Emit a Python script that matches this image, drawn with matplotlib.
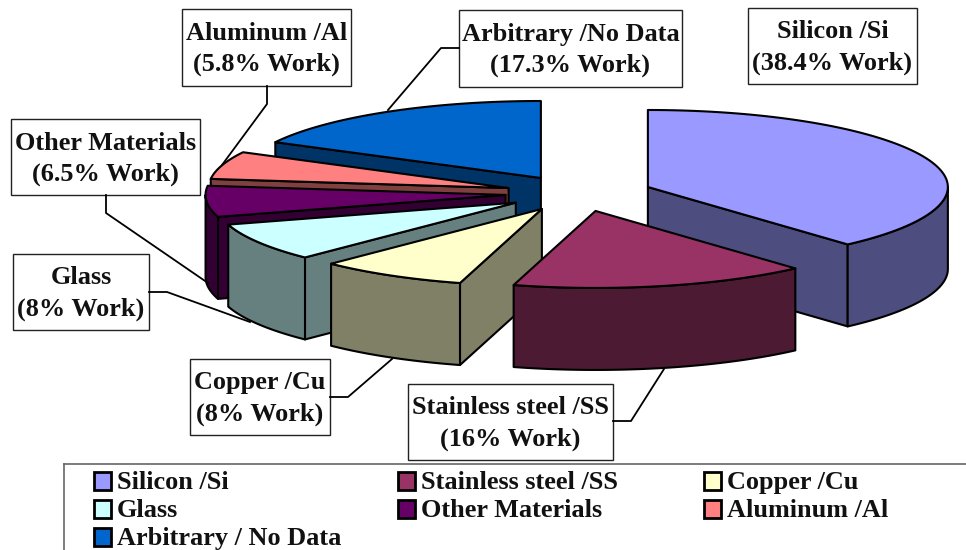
import numpy as np
import matplotlib
matplotlib.use('Agg')
import matplotlib.pyplot as plt
from matplotlib.patches import Rectangle

materials = ['Silicon /Si', 'Stainless steel /SS', 'Copper /Cu', 'Glass', 'Other Materials', 'Aluminum /Al', 'Arbitrary / No Data']
shares = [38.4, 16, 8, 8, 6.5, 5.8, 17.3]
box_titles = ['Silicon /Si', 'Stainless steel /SS', 'Copper /Cu', 'Glass', 'Other Materials', 'Aluminum /Al', 'Arbitrary /No Data']
top_colors = ['#9999FF', '#993366', '#FFFFCC', '#CCFFFF', '#660066', '#FF8080', '#0066CC']
side_colors = ['#4D4D80', '#4D1A33', '#808066', '#668080', '#330033', '#804040', '#003366']

# pie geometry, in pixels
cx, cy = 579, 193.4
rx, ry = 300, 77
depth = 82
explode = 0.2457

# label boxes (x0, y0, x1, y1) and leader lines
boxes = [(748, 8, 917, 84), (408, 384, 613, 460), (190, 359, 330, 435), (13, 254, 149, 330),
         (11, 119, 200, 195), (182, 9, 351, 86), (459, 10, 682, 87)]
leaders = [None,
           [(613, 421), (631, 421), (664, 369)],
           [(330, 397), (348, 397), (392, 359)],
           [(149, 292), (167, 292), (250, 322)],
           [(106, 195), (106, 213), (208, 283)],
           [(267, 86), (267, 104), (222, 165)],
           [(459, 48), (441, 48), (388, 110)]]

fig = plt.figure(figsize=(9.66, 5.5), dpi=100)
ax = fig.add_axes([0, 0, 1, 1])
ax.set_xlim(0, 966)
ax.set_ylim(550, 0)
ax.axis('off')

font = dict(family=['Liberation Serif', 'DejaVu Serif'], fontweight='bold', color='#111111', fontsize=18.9)


def rim(x0, y0, a, b):
    t = np.radians(np.linspace(a, b, 80))
    return x0 + rx * np.sin(t), y0 - ry * np.cos(t)


edges = np.concatenate([[0], np.cumsum(shares)]) * 3.6

# back slices first, stainless steel sits in front of silicon and copper
for i in [6, 5, 4, 3, 2, 0, 1]:
    a, b = edges[i], edges[i + 1]
    mid = np.radians((a + b) / 2)
    x0 = cx + explode * rx * np.sin(mid)
    y0 = cy - 18 * np.cos(mid)
    xs, ys = rim(x0, y0, a, b)
    kw = dict(facecolor=side_colors[i], edgecolor='black', linewidth=1.5, joinstyle='round')
    # flat cut faces, only those turned to the viewer
    if 180 < a < 360:
        ax.fill([x0, xs[0], xs[0], x0], [y0, ys[0], ys[0] + depth, y0 + depth], **kw)
    if 0 < b < 180:
        ax.fill([x0, xs[-1], xs[-1], x0], [y0, ys[-1], ys[-1] + depth, y0 + depth], **kw)
    # outer wall, front half only
    lo, hi = max(a, 90), min(b, 270)
    if hi > lo:
        wx, wy = rim(x0, y0, lo, hi)
        ax.fill(np.r_[wx, wx[::-1]], np.r_[wy, wy[::-1] + depth], **kw)
    ax.fill(np.r_[x0, xs], np.r_[y0, ys], facecolor=top_colors[i], edgecolor='black', linewidth=1.5, joinstyle='round')

# label boxes and leaders
for i, m in enumerate(box_titles):
    if leaders[i]:
        lx, ly = zip(*leaders[i])
        ax.plot(lx, ly, color='black', lw=1.3, solid_joinstyle='round')
    x0, y0, x1, y1 = boxes[i]
    ax.add_patch(Rectangle((x0, y0), x1 - x0, y1 - y0, facecolor='white', edgecolor='#222222', lw=1))
    ax.text((x0 + x1) / 2, y0 + 30.5, m, ha='center', va='baseline', **font)
    ax.text((x0 + x1) / 2, y0 + 62, '(%g%% Work)' % shares[i], ha='center', va='baseline', **font)

# legend, three columns filled row by row
ax.plot([64, 64], [550, 464], color='#666666', lw=1.2)
ax.plot([64, 966], [464, 464], color='#666666', lw=1.2)
col_x = [94, 398, 704]
row_y = [481, 509, 537]
for i, m in enumerate(materials):
    lx = col_x[i % 3]
    ly = row_y[i // 3]
    ax.add_patch(Rectangle((lx, ly - 9), 17, 18, facecolor=top_colors[i], edgecolor='black', lw=2))
    ax.text(lx + 23, ly + 8, m, ha='left', va='baseline', **font)

fig.savefig('out.png', dpi=100)
